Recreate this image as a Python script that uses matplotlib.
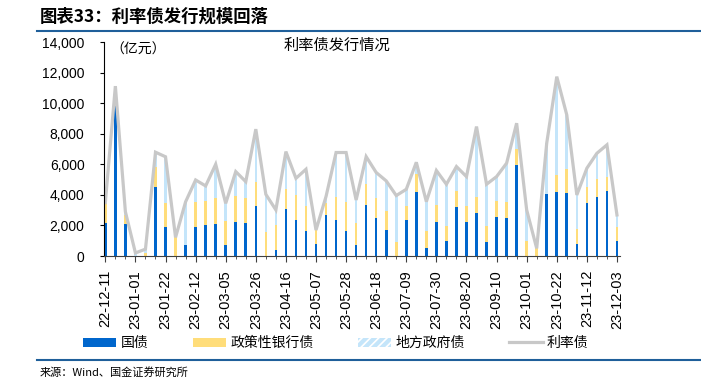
import matplotlib
matplotlib.use('Agg')

import matplotlib.pyplot as plt
import numpy as np
from matplotlib.patches import Patch
from matplotlib.lines import Line2D

plt.rcParams['font.family'] = ['Liberation Sans', 'Noto Sans CJK SC']
plt.rcParams['hatch.linewidth'] = 1.2

# 周度发行数据（亿元）
dates = [
    '22-12-11', '22-12-18', '22-12-25', '23-01-01', '23-01-08', '23-01-15', '23-01-22',
    '23-01-29', '23-02-05', '23-02-12', '23-02-19', '23-02-26', '23-03-05', '23-03-12',
    '23-03-19', '23-03-26', '23-04-02', '23-04-09', '23-04-16', '23-04-23', '23-04-30',
    '23-05-07', '23-05-14', '23-05-21', '23-05-28', '23-06-04', '23-06-11', '23-06-18',
    '23-06-25', '23-07-02', '23-07-09', '23-07-16', '23-07-23', '23-07-30', '23-08-06',
    '23-08-13', '23-08-20', '23-08-27', '23-09-03', '23-09-10', '23-09-17', '23-09-24',
    '23-10-01', '23-10-08', '23-10-15', '23-10-22', '23-10-29', '23-11-05', '23-11-12',
    '23-11-19', '23-11-26', '23-12-03',
]
guozhai = [
    2140, 9800, 2100, 0, 0, 4500, 1920, 0, 700, 1920, 2010, 2100, 700, 2210,
    2190, 3280, 0, 390, 3100, 2380, 1640, 790, 2690, 2340, 1660, 720, 3370, 2470,
    1700, 0, 2340, 4200, 525, 2210, 960, 3210, 2210, 2840, 940, 2580, 2510, 5970,
    0, 0, 4060, 4190, 4150, 790, 3450, 3890, 4240, 1000,
]
zhengce = [
    1300, 200, 600, 0, 200, 1350, 1580, 1220, 0, 1600, 1590, 1730, 1600, 1750,
    1590, 1590, 1600, 1640, 1270, 1620, 1640, 910, 800, 1550, 1900, 1470, 1350, 1360,
    1230, 940, 960, 1160, 1135, 1130, 1030, 1050, 1070, 1050, 1050, 1010, 1030, 1030,
    1000, 500, 0, 1100, 1530, 960, 1100, 1140, 960, 920,
]
lilvzhai = [
    3500, 11130, 2900, 200, 450, 6800, 6500, 1220, 3550, 4980, 4590, 6010, 3450, 5530,
    4870, 8310, 4040, 3020, 6840, 5090, 5680, 1700, 3900, 6780, 6780, 3670, 6510, 5470,
    4920, 3960, 4370, 6140, 3560, 5600, 4700, 5860, 5200, 8480, 4700, 5200, 6080, 8700,
    3020, 500, 7400, 11750, 9240, 4000, 5750, 6730, 7280, 2690,
]

guozhai = np.array(guozhai)
zhengce = np.array(zhengce)
lilvzhai = np.array(lilvzhai)
difang = lilvzhai - guozhai - zhengce

BLUE = '#0066CC'
YELLOW = '#FFDD7A'
LIGHT = '#C4E5FA'
GRAY = '#C8C8C8'
LINE_BLUE = '#1F5F9A'

fig = plt.figure(figsize=(7.01, 3.80), dpi=100)
ax = fig.add_axes([0.1484, 0.3263, 0.7360, 0.5624])

x = np.arange(len(dates))
w = 0.26
ax.bar(x, guozhai, width=w, color=BLUE, linewidth=0)
ax.bar(x, zhengce, width=w, bottom=guozhai, color=YELLOW, linewidth=0)
ax.bar(x, difang, width=w, bottom=guozhai + zhengce, color=LIGHT, linewidth=0)
ax.plot(x, lilvzhai, color=GRAY, linewidth=2.3, solid_joinstyle='miter')

ax.set_xlim(-0.13, 51.3)
ax.set_ylim(0, 14000)
ax.set_yticks(np.arange(0, 14001, 2000))
ax.set_yticklabels([f'{v:,}' for v in range(0, 14001, 2000)], fontsize=10)
ax.set_xticks(x[::3])
ax.set_xticklabels(dates[::3], rotation=90, fontsize=10.5)
ax.set_xticks(x, minor=True)

ax.spines['top'].set_visible(False)
ax.spines['right'].set_visible(False)
ax.spines['left'].set_color('black')
ax.spines['bottom'].set_color('#404040')
ax.tick_params(axis='y', length=3, pad=11, colors='black')
ax.tick_params(axis='x', which='major', length=4, pad=6, color='#404040')
ax.tick_params(axis='x', which='minor', length=2, color='#404040')

fig.text(0.157, 0.868, '（亿元）', fontsize=10, ha='left', va='center',
         family='Noto Sans CJK SC')
fig.text(0.481, 0.882, '利率债发行情况', fontsize=11, ha='center', va='center',
         family='Noto Sans CJK SC')

# 标题与底部来源
fig.text(0.057, 0.955, '图表33：利率债发行规模回落', fontsize=12.5, fontweight='bold',
         ha='left', va='center', family='Noto Sans CJK SC')
fig.add_artist(Line2D([0.053, 0.999], [0.918, 0.918], color=LINE_BLUE, linewidth=1.5))
fig.add_artist(Line2D([0.053, 0.999], [0.053, 0.053], color=LINE_BLUE, linewidth=1.5))
fig.text(0.057, 0.021, '来源：Wind、国金证券研究所', fontsize=8, ha='left', va='center',
         family='Noto Sans CJK SC')

handles = [
    Patch(facecolor=BLUE, edgecolor='none'),
    Patch(facecolor=YELLOW, edgecolor='none'),
    Patch(facecolor=LIGHT, edgecolor='white', hatch='////', linewidth=0),
    Line2D([0], [0], color=GRAY, linewidth=2.3),
]
labels = ['国债', '政策性银行债', '地方政府债', '利率债']
fig.legend(handles, labels, loc='center', bbox_to_anchor=(0.479, 0.097), ncol=4,
           frameon=False, handlelength=2.4, handleheight=0.6,
           handletextpad=0.3, columnspacing=3.2, prop={'family': 'Noto Sans CJK SC', 'size': 10})

fig.savefig('out.png', dpi=100)
